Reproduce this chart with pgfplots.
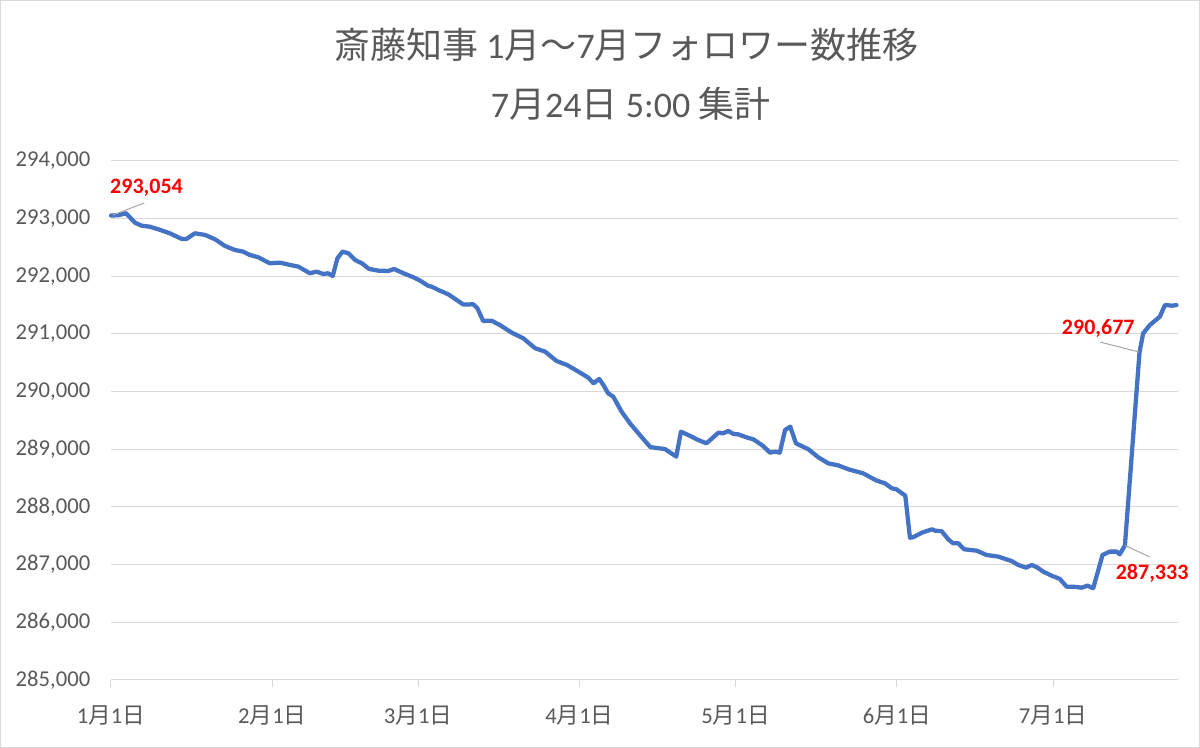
\documentclass[border=0pt]{standalone}
\usepackage{pgfplots}
\pgfplotsset{compat=1.18}
\usepackage{fontspec}
\setmainfont{Carlito}
\newfontfamily\cjk{Noto Sans CJK JP}
\definecolor{txtgray}{HTML}{595959}
\definecolor{gridgray}{HTML}{D9D9D9}
\definecolor{lineblue}{HTML}{4472C4}
\definecolor{leader}{HTML}{A6A6A6}
\begin{document}
\begin{tikzpicture}
\useasboundingbox (0,0) rectangle (900pt,561pt);
\draw[gridgray, line width=0.75pt] (0.375pt,0.375pt) rectangle (899.625pt,560.625pt);
\node[text=txtgray, font=\fontsize{27}{30}\selectfont] at (470pt,527pt) {{\cjk 斎藤知事} 1{\cjk 月～}7{\cjk 月フォロワー数推移}};
\node[text=txtgray, font=\fontsize{27}{30}\selectfont] at (473pt,483.5pt) {7{\cjk 月}24{\cjk 日} 5:00 {\cjk 集計}};
\begin{axis}[
  at={(83.25pt,51pt)}, anchor=south west,
  scale only axis, width=800.25pt, height=389.25pt,
  xmin=0, xmax=205, ymin=285000, ymax=294000,
  ytick={285000,286000,...,294000},
  yticklabels={285{,}000,286{,}000,287{,}000,288{,}000,289{,}000,290{,}000,291{,}000,292{,}000,293{,}000,294{,}000},
  xtick={0,31,59,90,120,151,181},
  xticklabels={{1{\cjk 月}1{\cjk 日}},{2{\cjk 月}1{\cjk 日}},{3{\cjk 月}1{\cjk 日}},{4{\cjk 月}1{\cjk 日}},{5{\cjk 月}1{\cjk 日}},{6{\cjk 月}1{\cjk 日}},{7{\cjk 月}1{\cjk 日}}},
  axis line style={draw=none},
  ymajorgrids, grid style={draw=gridgray, line width=0.75pt},
  xtick pos=bottom, ytick pos=left,
  xtick align=outside, major tick length=5pt,
  xtick style={draw=gridgray, line width=0.75pt},
  ytick style={draw=none},
  tick label style={text=txtgray, font=\fontsize{17}{20}\selectfont},
  scaled y ticks=false,
  yticklabel style={xshift=-12pt},
  xticklabel style={yshift=-11pt},
  clip=false,
]
\addplot[lineblue, line width=3.2pt, line join=round, line cap=round] coordinates {
(0,293054) (1.4,293060) (2.9,293093) (4.6,292930) (5.9,292878) (7.4,292861)
(9.1,292815) (11.3,292746) (13.6,292648) (14.5,292648) (16.1,292746) (18.1,292717)
(20.0,292642) (21.9,292526) (23.8,292457) (25.4,292428) (26.7,292370) (28.3,292330)
(30.5,292226) (32.5,292237) (34.4,292197) (36.0,292168) (38.2,292053) (39.5,292081)
(40.8,292040) (41.7,292053) (42.6,292006) (43.5,292313) (44.5,292428) (45.6,292399)
(46.9,292283) (48.2,292226) (49.6,292127) (51.4,292098) (53.3,292093) (54.4,292127)
(56.2,292053) (58.1,291983) (59.4,291925) (61.0,291832) (61.6,291821) (62.9,291763)
(64.8,291688) (66.4,291590) (67.7,291510) (69.6,291515) (70.4,291445) (71.5,291226)
(73.1,291231) (74.7,291156) (77.0,291023) (79.2,290925) (81.5,290752) (83.4,290694)
(85.6,290532) (87.6,290463) (89.8,290347) (91.7,290243) (92.7,290145) (93.8,290220)
(94.6,290116) (95.5,289972) (96.5,289913) (98.1,289653) (99.7,289452) (101.6,289249)
(103.6,289040) (105.2,289018) (106.4,289006) (108.6,288873) (109.5,289306) (111.3,289231)
(112.8,289162) (114.4,289104) (116.7,289289) (117.6,289277) (118.6,289318) (119.6,289266)
(120.5,289260) (122.1,289208) (123.4,289174) (125.3,289058) (126.6,288942) (127.6,288960)
(128.5,288942) (129.5,289335) (130.5,289393) (131.6,289104) (134.0,289000) (135.9,288861)
(137.8,288757) (139.7,288722) (141.7,288653) (144.5,288584) (147.1,288457) (148.7,288411)
(150.0,288324) (150.9,288307) (152.6,288197) (153.5,287467) (154.1,287475) (155.8,287555)
(157.7,287613) (158.3,287590) (159.6,287580) (160.9,287435) (161.8,287370) (162.8,287370)
(163.9,287267) (166.3,287243) (168.2,287168) (170.5,287139) (171.8,287099) (173.0,287064)
(174.3,286995) (175.8,286948) (176.9,286995) (177.9,286954) (179.1,286879) (180.7,286809)
(182.3,286752) (183.6,286618) (184.9,286618) (186.5,286601) (187.6,286636) (188.7,286590)
(189.7,286908) (190.5,287168) (191.9,287226) (193.2,287226) (193.8,287180) (194.8,287333)
(197.6,290677) (198.3,291010) (199.6,291156) (201.5,291300) (202.5,291503) (203.8,291491)
(204.7,291500)
};
\draw[leader, line width=0.75pt] (axis cs:0.4,293064) -- (axis cs:6.4,293272);
\draw[leader, line width=0.75pt] (axis cs:190.0,290861) -- (axis cs:197.5,290688);
\draw[leader, line width=0.75pt] (axis cs:194.8,287333) -- (axis cs:199.6,287133);
\node[anchor=west, inner sep=0pt, text=red, font=\bfseries\fontsize{16.5}{19}\selectfont] at (axis cs:-0.2,293532) {293,054};
\node[anchor=east, inner sep=0pt, text=red, font=\bfseries\fontsize{16.5}{19}\selectfont] at (axis cs:196.7,291104) {290,677};
\node[anchor=west, inner sep=0pt, text=red, font=\bfseries\fontsize{16.5}{19}\selectfont] at (axis cs:193.0,286855) {287,333};
\end{axis}
\end{tikzpicture}
\end{document}
